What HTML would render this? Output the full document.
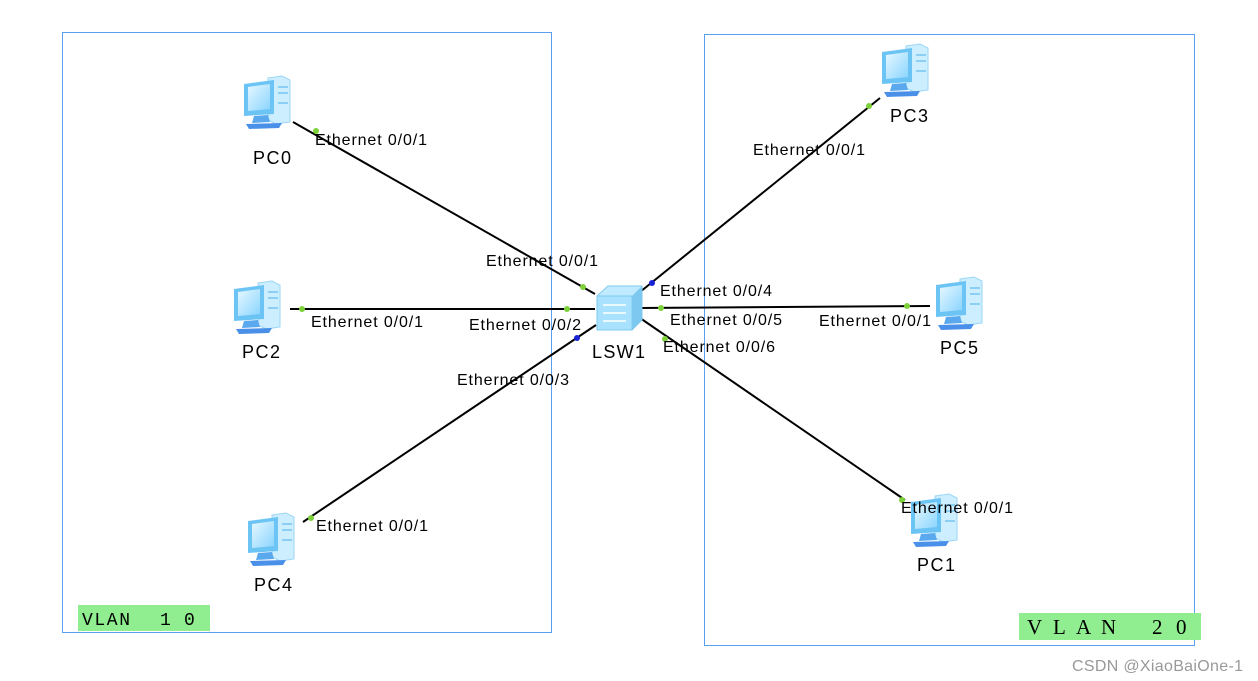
<!DOCTYPE html>
<html><head><meta charset="utf-8"><style>
html,body{margin:0;padding:0;background:#fff;width:1258px;height:681px;overflow:hidden}
</style></head><body>
<svg width="1258" height="681" viewBox="0 0 1258 681" xmlns="http://www.w3.org/2000/svg" font-family="Liberation Sans, Arial, sans-serif">
<defs>
<linearGradient id="scr" x1="0" y1="0" x2="1" y2="1"><stop offset="0" stop-color="#e6f8ff"/><stop offset="1" stop-color="#8ad4ff"/></linearGradient>
<g id="pc">
  <path d="M26 2 L40 0 L48 4 L48 46 L34 48 L26 44 Z" fill="#cdeeff" stroke="#9ad6f5" stroke-width="1"/>
  <rect x="36" y="10" width="10" height="2" fill="#8ccff5"/>
  <rect x="36" y="16" width="10" height="2" fill="#8ccff5"/>
  <rect x="36" y="26" width="10" height="2" fill="#8ccff5"/>
  <path d="M2 8 L32 4 L32 38 L2 40 Z" fill="#6cc4f5"/>
  <path d="M6 11 L28 8 L28 33 L6 35 Z" fill="url(#scr)"/>
  <path d="M12 40 L26 39 L28 46 L10 47 Z" fill="#5aa8ee"/>
  <path d="M4 48 L40 47 L37 52 L7 53 Z" fill="#4a90e8"/>
</g>
</defs>
<rect x="62.5" y="32.5" width="489" height="600" fill="none" stroke="#5aa0f0" stroke-width="1"/>
<rect x="704.5" y="34.5" width="490" height="611" fill="none" stroke="#5aa0f0" stroke-width="1"/>
<g stroke="#000" stroke-width="2">
<line x1="293" y1="122" x2="595" y2="294"/>
<line x1="290" y1="309" x2="595" y2="309"/>
<line x1="303" y1="522" x2="596" y2="325"/>
<line x1="880" y1="98" x2="640" y2="292"/>
<line x1="640" y1="308" x2="930" y2="306"/>
<line x1="640" y1="318" x2="905" y2="500"/>
</g>
<use href="#pc" x="242" y="76"/>
<use href="#pc" x="232" y="281"/>
<use href="#pc" x="246" y="513"/>
<use href="#pc" x="880" y="44"/>
<use href="#pc" x="934" y="277"/>
<use href="#pc" x="909" y="494"/>
<g>
<path d="M597 296 L608 286 L642 286 L642 320 L632 330 L597 330 Z" fill="#bfeaff" stroke="#7fcaf0"/>
<path d="M597 296 L632 296 L632 330 L597 330 Z" fill="#a8e2ff" stroke="#7fcaf0"/>
<path d="M632 296 L642 286 L642 320 L632 330 Z" fill="#7cc8f0"/>
<path d="M603 305 H626 M603 313 H626 M603 321 H626" stroke="#fff" stroke-width="1.5"/>
</g>
<g fill="#7dd13a">
<circle cx="316" cy="131" r="3"/><circle cx="583" cy="287" r="3"/><circle cx="302" cy="309" r="3"/><circle cx="567" cy="309" r="3"/><circle cx="311" cy="518" r="3"/><circle cx="869" cy="106" r="3"/><circle cx="661" cy="308" r="3"/><circle cx="907" cy="306" r="3"/><circle cx="665" cy="339" r="3"/><circle cx="902" cy="500" r="3"/>
</g>
<g fill="#1a22d8"><circle cx="577" cy="338" r="3"/><circle cx="652" cy="283" r="3"/></g>
<g font-size="18" fill="#000">
<text x="253" y="164" textLength="38">PC0</text>
<text x="242" y="358" textLength="38">PC2</text>
<text x="254" y="591" textLength="38">PC4</text>
<text x="890" y="122" textLength="38">PC3</text>
<text x="940" y="354" textLength="38">PC5</text>
<text x="917" y="571" textLength="38">PC1</text>
<text x="592" y="358" textLength="53">LSW1</text>
</g>
<g font-size="16" fill="#000">
<text x="315" y="145" textLength="112">Ethernet 0/0/1</text>
<text x="486" y="266" textLength="112">Ethernet 0/0/1</text>
<text x="311" y="327" textLength="112">Ethernet 0/0/1</text>
<text x="469" y="330" textLength="112">Ethernet 0/0/2</text>
<text x="457" y="385" textLength="112">Ethernet 0/0/3</text>
<text x="316" y="531" textLength="112">Ethernet 0/0/1</text>
<text x="753" y="155" textLength="112">Ethernet 0/0/1</text>
<text x="660" y="296" textLength="112">Ethernet 0/0/4</text>
<text x="670" y="325" textLength="112">Ethernet 0/0/5</text>
<text x="663" y="352" textLength="112">Ethernet 0/0/6</text>
<text x="819" y="326" textLength="112">Ethernet 0/0/1</text>
<text x="901" y="513" textLength="112">Ethernet 0/0/1</text>
</g>
<rect x="78" y="605" width="132" height="26" fill="#90ee90"/>
<g style="font-family:'Liberation Mono',monospace;font-size:18px" fill="#000">
<text x="82" y="625" textLength="48">VLAN</text>
<text x="160" y="625">1</text>
<text x="184" y="625">0</text>
</g>
<rect x="1019" y="613" width="182" height="27" fill="#90ee90"/>
<g style="font-family:'Liberation Serif',serif;font-size:21px" fill="#000">
<text x="1027" y="634">V</text><text x="1053" y="634">L</text><text x="1076" y="634">A</text><text x="1101" y="634">N</text>
<text x="1152" y="634">2</text><text x="1176" y="634">0</text>
</g>
<text x="1072" y="671" font-size="16" textLength="171" fill="#999">CSDN @XiaoBaiOne-1</text>
</svg>
</body></html>
